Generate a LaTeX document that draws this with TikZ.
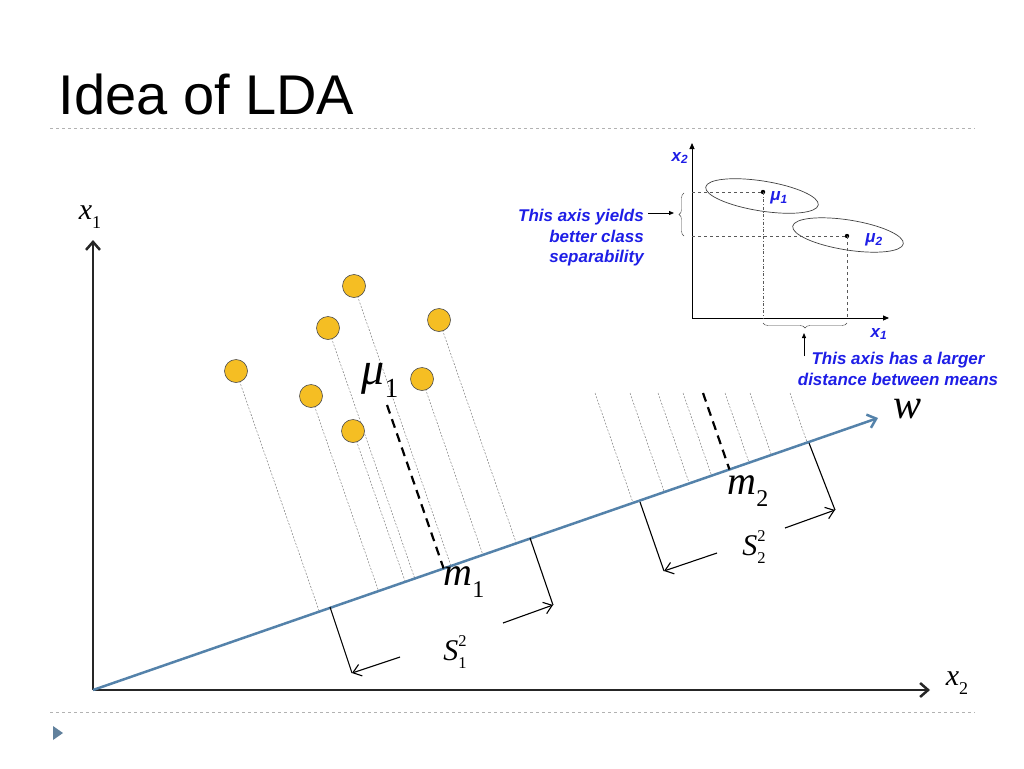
\documentclass[tikz,border=0pt]{standalone}
\usepackage{fontspec}
\setmainfont{Liberation Serif}
\newfontfamily\arial{Liberation Sans}
\usetikzlibrary{calc,arrows.meta,decorations.pathreplacing}
\definecolor{wblue}{RGB}{84,130,170}
\definecolor{dotfill}{RGB}{245,190,35}
\definecolor{tblue}{RGB}{30,30,230}
\newcommand{\lsub}[2]{\textit{#1}\raisebox{-0.28em}{\scalebox{0.6}{#2}}}
\newcommand{\lss}[3]{\textit{#1}\rlap{\raisebox{-0.28em}{\scalebox{0.55}{#2}}}\raisebox{0.45em}{\scalebox{0.55}{#3}}}
\tikzset{
  pt/.style={circle,draw=black!70,fill=dotfill,minimum size=23,inner sep=0,line width=0.6},
  proj/.style={gray,dash pattern=on 2pt off 1.5pt,line width=0.5},
  meanline/.style={black,line width=2.2,dash pattern=on 9pt off 6pt},
  brk/.style={black,line width=1.1},
  brkarr/.style={black,line width=1.1,-{Straight Barb[length=8,width=12]}},
  inset/.style={font=\arial\bfseries\itshape\fontsize{17}{20.5}\selectfont,text=tblue,inner sep=1},
  lbl/.style={font=\fontsize{30}{30}\selectfont},
}
\begin{document}
\begin{tikzpicture}[x=1pt,y=-1pt]
\useasboundingbox (0,0) rectangle (1024,768);
\node[anchor=west,font=\arial\fontsize{56}{56}\selectfont] (title) at (55,94) {Idea of LDA};
\coordinate (h1a) at (50,128); \coordinate (h1b) at (975,128);
\coordinate (h2a) at (50,712); \coordinate (h2b) at (975,712);
\draw[gray!60,dashed] (h1a) -- (h1b);
\draw[gray!60,dashed] (h2a) -- (h2b);
\fill[wblue!70!gray] (53,726) -- (63,733) -- (53,740) -- cycle;
% main axes
\coordinate (O) at (93,690);
\coordinate (Y) at (93,240);
\coordinate (X) at (930,690);
\draw[line width=2.5,gray!30!black,-{Straight Barb[length=8,width=14]}] (O) -- (Y);
\draw[line width=2.5,gray!30!black,-{Straight Barb[length=8,width=14]}] (O) -- (X);
\node[lbl] (x1) at (90,217) {\lsub{x}{1}};
\node[lbl] (x2) at (957,683) {\lsub{x}{2}};
% w line
\coordinate (W) at (878,418);
% points
\foreach \n/\x/\y in {a/354/286,b/328/328,c/439/320,d/236/371,e/311/396,f/422/379,g/353/431}{
  \draw[proj] (\x,\y) -- ($(O)!(\x,\y)!(W)$);
  \node[pt] (\n) at (\x,\y) {};
}
\foreach \x in {595,630,658,683,725,750,790}{
  \draw[proj] (\x,393) -- ($(O)!(\x,393)!(W)$);
}
\draw[line width=2.5,wblue,-{Straight Barb[length=8,width=14]}] (O) -- (W);
\node[font=\fontsize{42}{42}\selectfont,inner sep=0] (w) at (907,409) {\textit{w}};
\coordinate (mu1s) at (387,405); \coordinate (mu2s) at (703,393);
\draw[meanline] (mu1s) -- ($(O)!(mu1s)!(W)$);
\draw[meanline] (mu2s) -- ($(O)!(mu2s)!(W)$);
\node[font=\fontsize{46}{46}\selectfont] (mu1) at (380,380) {\lsub{μ}{1}};
\node[font=\fontsize{40}{40}\selectfont] (m1) at (464,582) {\lsub{m}{1}};
\node[font=\fontsize{40}{40}\selectfont] (m2) at (748,491) {\lsub{m}{2}};
% brackets
\draw[brk] (330,607) -- (352,673);
\draw[brkarr] (400,657) -- (352,673);
\draw[brk] (530,538) -- (553,605);
\draw[brkarr] (503,623) -- (553,605);
\node[lbl] (s1) at (455,652) {\lss{S}{1}{2}};
\draw[brk] (640,502) -- (664,571);
\draw[brkarr] (717,553) -- (664,571);
\draw[brk] (809,443) -- (835,510);
\draw[brkarr] (785,528) -- (835,510);
\node[lbl] (s2) at (754,547) {\lss{S}{2}{2}};
% inset
\coordinate (io) at (692,318);
\draw[line width=0.9,-{Triangle[length=6,width=5]}] (io) -- (692,143);
\draw[line width=0.9,-{Triangle[length=6,width=5]}] (io) -- (889,318);
\node[inset] (ix2) at (680,158) {x\textsubscript{2}};
\node[inset] (ix1) at (879,334) {x\textsubscript{1}};
\draw[gray!50!black,line width=0.7] (762,196) ellipse[x radius=57,y radius=15,rotate=-9];
\draw[gray!50!black,line width=0.7] (848,235) ellipse[x radius=56,y radius=15,rotate=-9];
\fill (763,192) circle (2.2);
\fill (847,236) circle (2.2);
\node[inset] (imu1) at (779,198) {μ\textsubscript{1}};
\node[inset] (imu2) at (874,240) {μ\textsubscript{2}};
\draw[gray!70!black,dashed,line width=0.6] (692,192) -- (763,192);
\draw[gray!70!black,dashed,line width=0.6] (692,236) -- (847,236);
\draw[gray!70!black,dash dot,line width=0.6] (763,192) -- (763,318);
\draw[gray!70!black,dashed,line width=0.6] (847,236) -- (847,318);
\draw[gray!50!black,decorate,decoration={brace,amplitude=5}] (684,236) -- (684,193);
\draw[gray!50!black,decorate,decoration={brace,amplitude=5,mirror}] (763,323) -- (847,323);
\node[inset,align=right,anchor=east] (t1) at (645,238) {This axis yields\\better class\\separability};
\draw[line width=0.8,-{Triangle[length=5,width=4]}] (648,213) -- (674,213);
\node[inset,align=center] (t2) at (898,369) {This axis has a larger\\distance between means};
\draw[line width=0.8,-{Triangle[length=5,width=4]}] (804,356) -- (804,333);
\end{tikzpicture}
\end{document}
